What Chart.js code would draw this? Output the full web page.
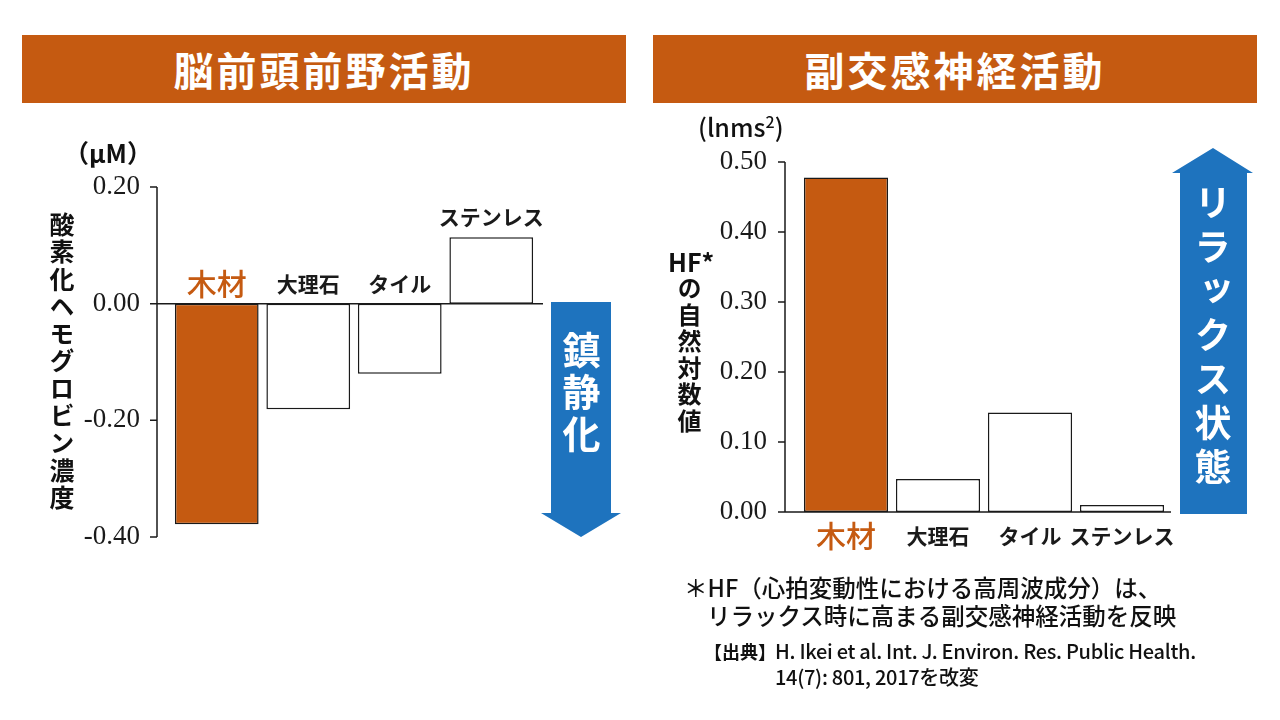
<!DOCTYPE html>
<html lang="ja">
<head>
<meta charset="utf-8">
<script src="https://cdn.jsdelivr.net/npm/chart.js@4.4.1/dist/chart.umd.min.js"></script>
<style>
  html, body { margin: 0; padding: 0; background: #fff; }
  body { width: 1280px; height: 720px; position: relative; overflow: hidden;
         font-family: "Noto Sans CJK JP", "Noto Sans", sans-serif; color: #111; }
  canvas { position: absolute; top: 0; }
  .abs { position: absolute; white-space: nowrap; }
  .banner { position: absolute; top: 35px; width: 604px; height: 68px; background: #C55A11;
            color: #fff; font-size: 40px; font-weight: 700; line-height: 68px; text-align: center;
            letter-spacing: 3px; }
  .vert { position: absolute; writing-mode: vertical-rl; font-weight: 700; white-space: nowrap; }
  .arrowText { color: #fff; }
</style>
</head>
<body>
<canvas id="leftChart" width="640" height="720" style="left:0"></canvas>
<canvas id="rightChart" width="640" height="720" style="left:640px"></canvas>

<div class="banner" style="left:22px">脳前頭前野活動</div>
<div class="banner" style="left:653px">副交感神経活動</div>

<svg class="abs" style="left:0;top:0" width="1280" height="720">
  <polygon fill="#1E73BE" points="551,302 611,302 611,513 621,513 581,537 541,513 551,513"/>
  <polygon fill="#1E73BE" points="1180,514 1247,514 1247,173 1253,173 1213,148 1172,173 1180,173"/>
</svg>

<!-- left axis titles -->
<div class="abs" style="left:64px;top:136px;font-size:25px;line-height:32px;font-weight:700">（μM）</div>
<div class="vert" style="left:48px;top:212px;font-size:25px;line-height:28px;letter-spacing:2.3px">酸素化ヘモグロビン濃度</div>
<div class="vert arrowText" style="left:561px;top:331px;font-size:38px;line-height:40px;letter-spacing:4px">鎮静化</div>

<!-- right axis titles -->
<div class="abs" style="left:698px;top:110px;font-size:25px;line-height:32px;font-weight:500">(lnms<sup style="font-size:16px;vertical-align:9px;line-height:0">2</sup>)</div>
<div class="abs" style="left:668px;top:245px;font-size:25px;line-height:32px;font-weight:700">HF*</div>
<div class="vert" style="left:676px;top:276px;font-size:24px;line-height:26px;letter-spacing:2.5px">の自然対数値</div>
<div class="vert arrowText" style="left:1193px;top:184px;font-size:37px;line-height:40px;letter-spacing:7px">リラックス状態</div>

<!-- notes -->
<div class="abs" style="left:684px;top:571px;font-size:23.5px;line-height:32px;font-weight:500">＊HF（心拍変動性における高周波成分）は、</div>
<div class="abs" style="left:707px;top:599px;font-size:23.5px;line-height:32px;font-weight:500">リラックス時に高まる副交感神経活動を反映</div>
<div class="abs" style="left:704px;top:638px;font-size:18px;line-height:26px;font-weight:700">【出典】</div>
<div class="abs" style="left:775px;top:638px;font-size:20px;line-height:26px;font-weight:500;letter-spacing:-0.3px">H. Ikei et al. Int. J. Environ. Res. Public Health.</div>
<div class="abs" style="left:775px;top:664px;font-size:20px;line-height:26px;font-weight:500;letter-spacing:-0.3px">14(7): 801, 2017を改変</div>

<script>
// data
const categories = ['木材', '大理石', 'タイル', 'ステンレス'];
const oxyHbValues = [-0.378, -0.181, -0.120, 0.114];
const hfValues = [0.478, 0.047, 0.142, 0.010];
const oxyHbTicks = [-0.40, -0.20, 0.00, 0.20];
const hfTicks = [0.00, 0.10, 0.20, 0.30, 0.40, 0.50];

const WOOD = '#C55A11';
const INK = '#1a1a1a';
const jpFont = '"Noto Sans CJK JP", "Noto Sans", sans-serif';

// axis line, tick marks, zero line and category labels drawn by hand
const handAxis = {
  id: 'handAxis',
  afterDatasetsDraw(chart, args, opts) {
    const { ctx, chartArea, scales: { x, y } } = chart;
    const ax = chartArea.left - opts.gap;
    ctx.save();
    ctx.strokeStyle = INK;
    ctx.lineWidth = 1.5;
    ctx.beginPath();
    ctx.moveTo(ax, y.getPixelForValue(y.max));
    ctx.lineTo(ax, y.getPixelForValue(y.min));
    y.ticks.forEach(t => {
      const py = y.getPixelForValue(t.value);
      ctx.moveTo(ax - 7, py);
      ctx.lineTo(ax, py);
    });
    const zy = y.getPixelForValue(0);
    ctx.moveTo(ax, zy);
    ctx.lineTo(chartArea.right + opts.extRight, zy);
    ctx.stroke();

    const values = chart.data.datasets[0].data;
    ctx.textAlign = 'center';
    ctx.textBaseline = 'middle';
    chart.data.labels.forEach((lab, i) => {
      const px = x.getPixelForValue(i);
      let py;
      if (opts.mode === 'above') {
        py = (values[i] < 0 ? zy : y.getPixelForValue(values[i])) - 20;
      } else {
        py = zy + 24;
      }
      if (i === 0) {
        ctx.fillStyle = WOOD;
        ctx.font = '500 30px ' + jpFont;
      } else {
        ctx.fillStyle = INK;
        ctx.font = '700 21px ' + jpFont;
      }
      ctx.fillText(lab, px, py);
    });
    ctx.restore();
  }
};

function makeChart(id, values, ticks, min, max, pad, axisWidth, tickPad, axisOpts) {
  return new Chart(document.getElementById(id), {
    type: 'bar',
    data: {
      labels: categories,
      datasets: [{
        data: values,
        backgroundColor: categories.map((c, i) => i === 0 ? WOOD : '#ffffff'),
        borderColor: INK,
        borderWidth: 1.5,
        borderSkipped: false,
        barPercentage: 0.915,
        categoryPercentage: 1
      }]
    },
    options: {
      responsive: false,
      animation: false,
      layout: { padding: pad },
      plugins: {
        legend: { display: false },
        tooltip: { enabled: false },
        handAxis: axisOpts
      },
      scales: {
        x: { display: false },
        y: {
          min: min,
          max: max,
          afterBuildTicks: s => { s.ticks = ticks.map(v => ({ value: v })); },
          afterFit: s => { s.width = axisWidth; },
          grid: { display: false, drawTicks: false },
          border: { display: false },
          ticks: {
            padding: tickPad,
            color: INK,
            font: { family: '"Liberation Serif", "DejaVu Serif", serif', size: 27 },
            callback: v => Number(v).toFixed(2)
          }
        }
      }
    },
    plugins: [handAxis]
  });
}

makeChart('leftChart', oxyHbValues, oxyHbTicks, -0.4, 0.2,
  { left: 0, right: 103, top: 187, bottom: 183 }, 171, 31,
  { gap: 14, extRight: 6, mode: 'above' });

makeChart('rightChart', hfValues, hfTicks, 0, 0.5,
  { left: 0, right: 112, top: 162, bottom: 208 }, 160, 33,
  { gap: 15, extRight: 3, mode: 'below' });
</script>
</body>
</html>
